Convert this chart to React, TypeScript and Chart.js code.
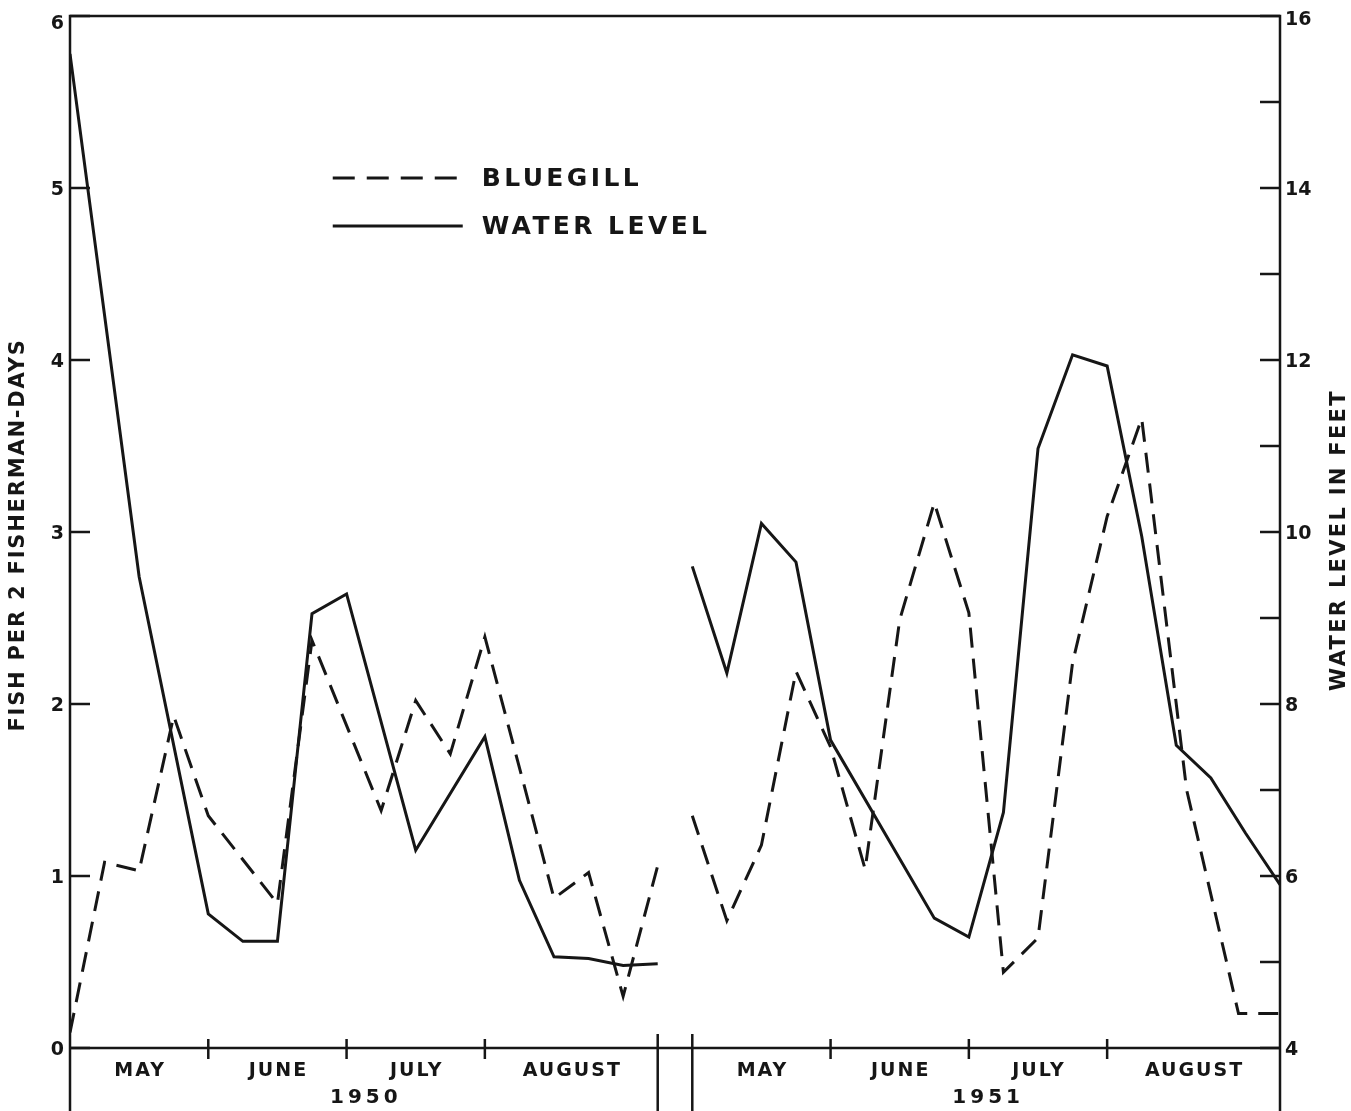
import React, { useEffect, useRef } from "react";
import { Chart, registerables } from "chart.js";

Chart.register(...registerables);

// x = weeks counted from the start of May 1950 (weeks 17–18 are the break between seasons)
const bluegill1950X = [0, 1, 2, 3, 4, 6, 7, 9, 10, 11, 12, 14, 15, 16, 17];
const bluegill1950Y = [0.09, 1.08, 1.03, 1.93, 1.35, 0.84, 2.37, 1.38, 2.02, 1.71, 2.39, 0.87, 1.02, 0.3, 1.06];
const bluegill1951X = [18, 19, 20, 21, 22, 23, 24, 25, 26, 27, 28, 29, 30, 31, 32.3, 33.8, 35];
const bluegill1951Y = [1.35, 0.74, 1.18, 2.19, 1.75, 1.04, 2.49, 3.17, 2.53, 0.44, 0.64, 2.24, 3.09, 3.66, 1.5, 0.2, 0.2];

const water1950X = [0, 2, 4, 5, 6, 7, 8, 10, 12, 13, 14, 15, 16, 17];
const water1950Y = [15.56, 9.48, 5.56, 5.24, 5.24, 9.05, 9.28, 6.3, 7.62, 5.95, 5.06, 5.04, 4.96, 4.98];
const water1951X = [18, 19, 20, 21, 22, 25, 26, 27, 28, 29, 30, 31, 32, 33, 34, 35];
const water1951Y = [9.6, 8.36, 10.1, 9.65, 7.58, 5.51, 5.29, 6.74, 10.97, 12.06, 11.93, 9.95, 7.52, 7.14, 6.5, 5.9];

const monthLabels = ["MAY", "JUNE", "JULY", "AUGUST", "MAY", "JUNE", "JULY", "AUGUST"];
const monthStarts = [0, 4, 8, 12, 18, 22, 26, 30];
const monthEnds = [4, 8, 12, 17, 22, 26, 30, 35];
const yearLabels = ["1950", "1951"];
const yearStarts = [0, 18];
const yearEnds = [17, 35];
const seasonBreaks = [17, 18];

const fishTicks = [0, 1, 2, 3, 4, 5, 6];
const levelTicks = [4, 5, 6, 7, 8, 9, 10, 11, 12, 13, 14, 15, 16];
const levelLabels = [4, 6, 8, 10, 12, 14, 16];

const leftTitle = "FISH PER 2 FISHERMAN-DAYS";
const rightTitle = "WATER LEVEL IN FEET";
const legendBluegill = "BLUEGILL";
const legendWater = "WATER LEVEL";

const INK = "#161616";
const W = 1351;
const H = 1111;
const BOLD = '"DejaVu Sans", "Liberation Sans", sans-serif';

const pts = (xs: number[], ys: number[]) => xs.map((x, i) => ({ x, y: ys[i] }));

const decorations = {
  id: "decorations",
  beforeDraw(chart: any) {
    const c = chart.ctx;
    c.save();
    c.fillStyle = "#ffffff";
    c.fillRect(0, 0, chart.width, chart.height);
    c.restore();
  },
  afterDraw(chart: any) {
    const c: CanvasRenderingContext2D = chart.ctx;
    const xs = chart.scales.x;
    const ys = chart.scales.y;
    const y2 = chart.scales.y2;
    const { left, right, top, bottom } = chart.chartArea;
    c.save();
    c.strokeStyle = INK;
    c.fillStyle = INK;
    c.lineCap = "butt";

    // frame
    c.lineWidth = 2.5;
    c.beginPath();
    c.moveTo(left, H);
    c.lineTo(left, top);
    c.lineTo(right, top);
    c.lineTo(right, H);
    c.moveTo(left, bottom);
    c.lineTo(right, bottom);
    c.stroke();

    // inward ticks on both value axes
    c.beginPath();
    fishTicks.forEach((v) => {
      const y = ys.getPixelForValue(v);
      c.moveTo(left, y);
      c.lineTo(left + 20, y);
    });
    levelTicks.forEach((v) => {
      const y = y2.getPixelForValue(v);
      c.moveTo(right - 20, y);
      c.lineTo(right, y);
    });
    c.stroke();

    // month boundary ticks and season break lines
    c.beginPath();
    monthStarts.forEach((m) => {
      if (m === 0 || seasonBreaks.includes(m)) return;
      const x = xs.getPixelForValue(m);
      c.moveTo(x, bottom - 9);
      c.lineTo(x, bottom + 11);
    });
    seasonBreaks.forEach((m) => {
      const x = xs.getPixelForValue(m);
      c.moveTo(x, bottom - 14);
      c.lineTo(x, H);
    });
    c.stroke();

    // tick labels
    c.font = `bold 19px ${BOLD}`;
    c.textBaseline = "middle";
    c.textAlign = "right";
    fishTicks.forEach((v) => {
      const y = Math.max(ys.getPixelForValue(v) + 2, 24);
      c.fillText(String(v), left - 6, y);
    });
    c.textAlign = "left";
    levelLabels.forEach((v) => {
      const y = Math.max(y2.getPixelForValue(v) + 2, 20);
      c.fillText(String(v), right + 5, y);
    });

    // month & year labels
    c.font = `bold 19px ${BOLD}`;
    (c as any).letterSpacing = "2px";
    c.textAlign = "center";
    monthLabels.forEach((lab, i) => {
      const x = (xs.getPixelForValue(monthStarts[i]) + xs.getPixelForValue(monthEnds[i])) / 2;
      c.fillText(lab, x + 1, bottom + 23);
    });
    c.font = `bold 20px ${BOLD}`;
    (c as any).letterSpacing = "4px";
    yearLabels.forEach((lab, i) => {
      const x = (xs.getPixelForValue(yearStarts[i]) + xs.getPixelForValue(yearEnds[i])) / 2;
      c.fillText(lab, x + 2, bottom + 50);
    });

    // axis titles
    c.font = `bold 21px ${BOLD}`;
    (c as any).letterSpacing = "1.8px";
    c.save();
    c.translate(19, (top + bottom) / 2 + 3);
    c.rotate(-Math.PI / 2);
    c.textAlign = "center";
    c.fillText(leftTitle, 0, 0);
    c.restore();
    (c as any).letterSpacing = "2.3px";
    c.save();
    c.translate(1340, (top + bottom) / 2 + 8);
    c.rotate(-Math.PI / 2);
    c.textAlign = "center";
    c.fillText(rightTitle, 0, 0);
    c.restore();

    // legend
    const lx0 = xs.getPixelForValue(7.6);
    const lx1 = lx0 + 130;
    const ly1 = 178;
    const ly2 = 226;
    c.lineWidth = 3;
    c.setLineDash([22, 12]);
    c.beginPath();
    c.moveTo(lx0, ly1);
    c.lineTo(lx1, ly1);
    c.stroke();
    c.setLineDash([]);
    c.beginPath();
    c.moveTo(lx0, ly2);
    c.lineTo(lx1, ly2);
    c.stroke();
    c.font = `bold 25px ${BOLD}`;
    (c as any).letterSpacing = "3.4px";
    c.textAlign = "left";
    c.fillText(legendBluegill, lx1 + 19, ly1 + 1);
    c.fillText(legendWater, lx1 + 19, ly2 + 1);
    c.restore();
  },
};

export default function App() {
  const ref = useRef<HTMLCanvasElement | null>(null);
  useEffect(() => {
    if (!ref.current) return;
    const common = {
      borderColor: INK,
      borderWidth: 3,
      pointRadius: 0,
      tension: 0,
      fill: false,
      borderJoinStyle: "miter" as const,
      borderCapStyle: "butt" as const,
    };
    const chart = new Chart(ref.current, {
      type: "line",
      data: {
        datasets: [
          { ...common, label: "BLUEGILL 1950", data: pts(bluegill1950X, bluegill1950Y), yAxisID: "y", borderDash: [20, 11] },
          { ...common, label: "BLUEGILL 1951", data: pts(bluegill1951X, bluegill1951Y), yAxisID: "y", borderDash: [20, 11] },
          { ...common, label: "WATER LEVEL 1950", data: pts(water1950X, water1950Y), yAxisID: "y2" },
          { ...common, label: "WATER LEVEL 1951", data: pts(water1951X, water1951Y), yAxisID: "y2" },
        ],
      },
      options: {
        animation: false,
        responsive: false,
        devicePixelRatio: 1,
        layout: { padding: { left: 70, right: 71, top: 16, bottom: 63 } },
        scales: {
          x: { type: "linear", min: 0, max: 35, display: false },
          y: { type: "linear", min: 0, max: 6, display: false },
          y2: { type: "linear", min: 4, max: 16, display: false },
        },
        plugins: { legend: { display: false }, tooltip: { enabled: false } },
      },
      plugins: [decorations],
    });
    return () => chart.destroy();
  }, []);
  return (
    <div style={{ position: "fixed", left: 0, top: 0, width: W, height: H, background: "#fff" }}>
      <canvas ref={ref} width={W} height={H} style={{ width: W, height: H, display: "block" }} />
    </div>
  );
}
